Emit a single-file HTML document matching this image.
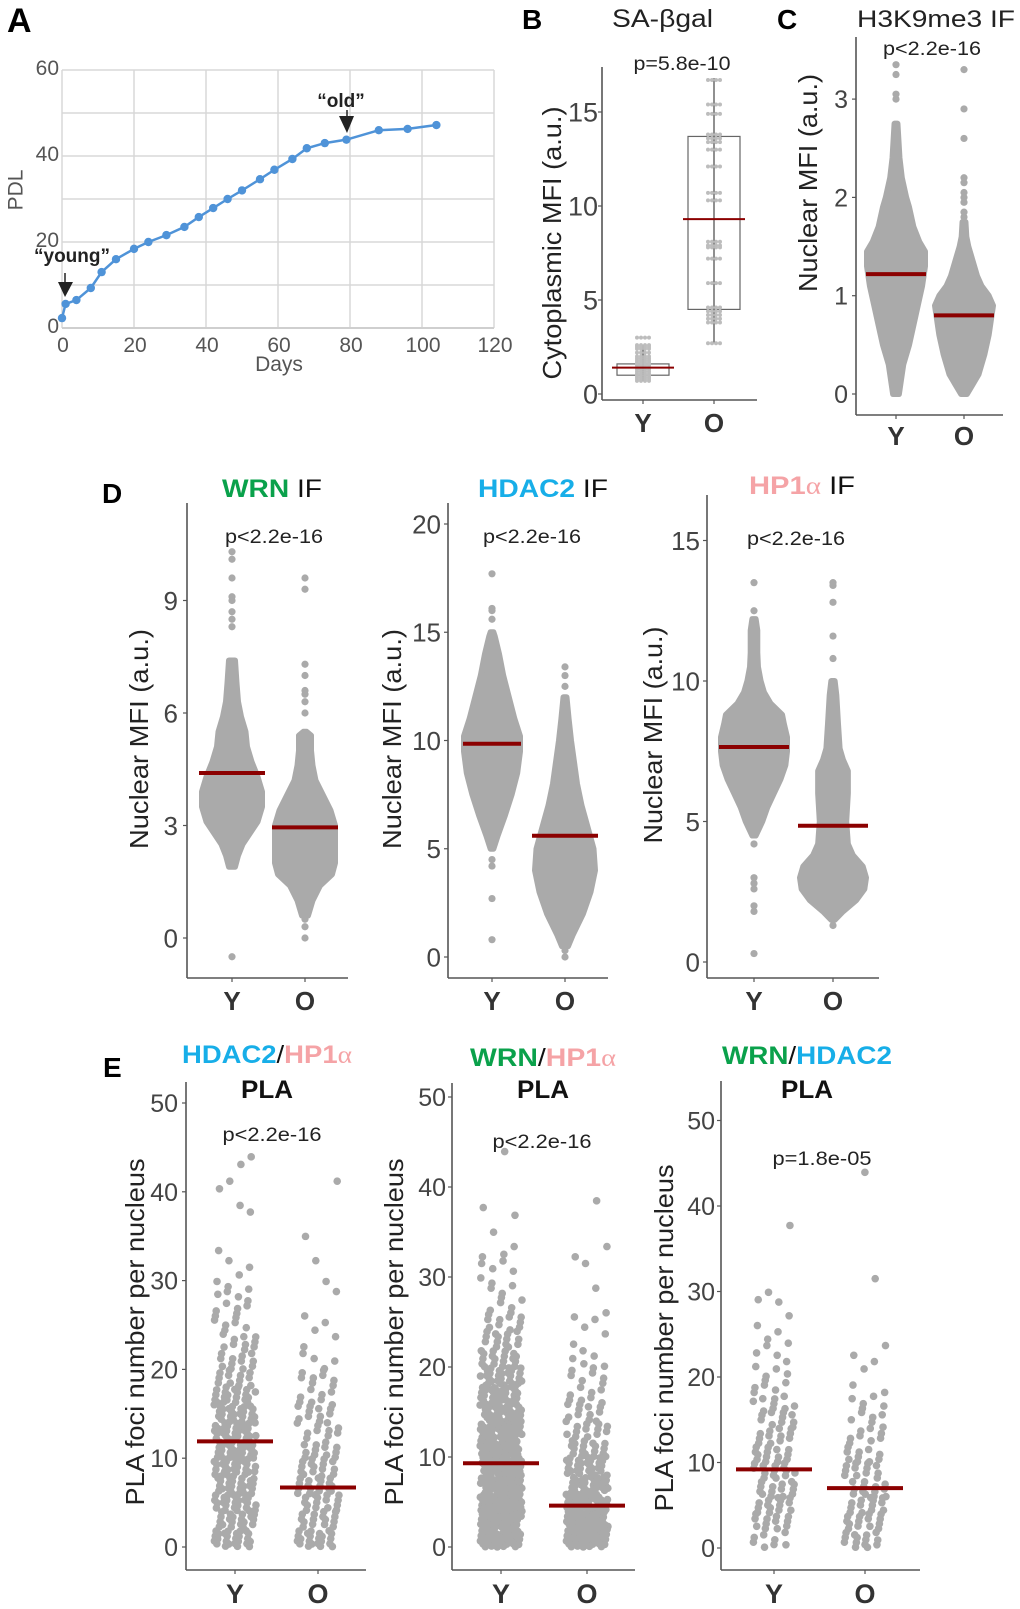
<!DOCTYPE html>
<html><head><meta charset="utf-8"><title>Figure</title>
<style>
html,body{margin:0;padding:0;background:#fff;}
svg{display:block;font-family:"Liberation Sans",Arial,sans-serif;}
</style></head>
<body>
<svg id="fig" width="1020" height="1609" viewBox="0 0 1020 1609" xmlns="http://www.w3.org/2000/svg"></svg>
<script>
// ---------- Panel A data ----------
const aDays = [0,1,4,8,11,15,20,24,29,34,38,42,46,50,55,59,64,68,73,79,88,96,104];
const aPDL  = [2.3,5.6,6.5,9.3,13,16,18.4,20,21.6,23.5,25.8,27.9,30,32,34.6,36.8,39.3,41.8,43,43.8,46,46.3,47.2];
const aXTicks = [0,20,40,60,80,100,120];
const aYTicks = [0,20,40,60];
// ---------- Panel B data ----------
const bGroups = ["Y","O"];
const bQ1 = [1.0,4.5];
const bQ3 = [1.6,13.7];
const bMed = [1.4,9.3];
const bLo = [0.7,2.7];
const bHi = [2.6,16.8];
const bYvals = [0.7,0.8,0.9,1.0,1.1,1.2,1.3,1.4,1.5,1.6,1.7,1.8,1.9,2.0,2.2,2.4,2.5,2.6,3.0];
const bOvals = [2.7,3.8,4.0,4.2,4.4,4.6,5.9,7.2,7.8,7.9,8.1,10.3,10.7,12.1,13.0,13.4,13.6,13.8,14.9,15.4,16.7];
const bTicks = [0,5,10,15];
// ---------- Panel C data ----------
const cYLevels = [0,0.1,0.2,0.3,0.5,0.7,0.9,1.1,1.3,1.45,1.55,1.7,1.9,2.0,2.2,2.4,2.6,2.75];
const cYDens   = [0.1,0.15,0.2,0.25,0.45,0.6,0.75,0.9,1,1,0.8,0.6,0.45,0.35,0.2,0.12,0.08,0.05];
const cYOut = [2.65,2.7,3.0,3.05,3.25,3.35];
const cOLevels = [0,0.1,0.2,0.4,0.6,0.8,0.9,1.0,1.1,1.2,1.35,1.5,1.6,1.75];
const cODens   = [0.1,0.3,0.5,0.7,0.85,0.95,1,0.85,0.6,0.45,0.3,0.15,0.08,0.05];
const cOOut = [1.8,1.85,1.95,2.0,2.05,2.15,2.2,2.6,2.9,3.3];
const cMed = [1.22,0.8];
const cTicks = [0,1,2,3];
// ---------- Panel D data ----------
const wYLevels = [1.9,2.2,2.5,2.8,3.1,3.5,3.9,4.3,4.7,5.1,5.5,5.9,6.3,6.8,7.4];
const wYDens   = [0.1,0.2,0.35,0.6,0.85,1,1,0.85,0.65,0.5,0.45,0.3,0.2,0.15,0.1];
const wYOut = [-0.5,8.3,8.5,8.7,9.0,9.1,9.6,10.1,10.3];
const wOLevels = [0.6,1.0,1.4,1.7,2.0,2.5,3.0,3.4,3.8,4.2,4.6,5.0,5.4,5.5];
const wODens   = [0.1,0.25,0.5,0.9,1,1,1,0.85,0.6,0.35,0.25,0.2,0.2,0.05];
const wOOut = [0.0,0.3,0.5,6.0,6.3,6.5,6.6,7.0,7.3,9.3,9.6];
const wMed = [4.4,2.95];
const wTicks = [0,3,6,9];
const hYLevels = [5.0,5.6,6.5,7.5,8.5,9.5,10.2,11.0,12.0,13.0,14.0,14.8,15.0];
const hYDens   = [0.05,0.2,0.45,0.7,0.9,1,1,0.8,0.6,0.4,0.25,0.1,0.05];
const hYOut = [0.8,2.7,4.2,4.5,5.2,15.6,16.0,16.1,17.7];
const hOLevels = [0.5,1.0,2.0,3.0,4.0,5.0,6.0,7.0,8.0,9.0,10.0,11.0,12.0];
const hODens   = [0.1,0.25,0.6,0.85,1,0.95,0.75,0.55,0.4,0.3,0.2,0.12,0.05];
const hOOut = [0.0,0.3,12.5,13.0,13.4];
const hMed = [9.85,5.6];
const hTicks = [0,5,10,15,20];
const pYLevels = [4.5,5.0,5.5,6.0,6.5,7.0,7.5,8.0,8.5,8.8,9.2,9.6,10.0,10.5,11.0,11.8,12.2];
const pYDens   = [0.05,0.25,0.4,0.6,0.8,0.95,1,1,0.9,0.85,0.5,0.3,0.2,0.12,0.1,0.1,0.05];
const pYOut = [0.3,1.8,2.0,2.6,2.8,3.0,4.2,12.5,13.5];
const pOLevels = [1.5,1.8,2.2,2.6,3.0,3.4,3.8,4.2,5.0,6.0,6.8,7.2,7.6,8.5,9.5,10.0];
const pODens   = [0.05,0.3,0.7,0.95,1,0.9,0.6,0.45,0.4,0.45,0.45,0.3,0.2,0.15,0.1,0.05];
const pOOut = [1.3,10.8,11.6,12.8,13.4,13.5];
const pMed = [7.65,4.85];
const pTicks = [0,5,10,15];
// ---------- Panel E data (counts per 2-unit bin, starting at 0) ----------
const eBinWidth = 2;
const e1Y = [25,20,25,25,25,28,28,25,22,12,12,10,6,7,6,2,2,0,1,1,2,2];
const e1O = [22,15,15,18,14,12,10,10,8,8,4,2,2,1,2,0,1,1,0,0,1];
const e1Med = [11.9,6.7];
const e2Y = [45,40,40,40,40,38,35,32,30,25,18,14,10,6,5,4,3,1,2,0,0,1];
const e2O = [50,40,35,30,25,18,14,10,8,7,5,2,3,1,1,1,2,0,0,1];
const e2Med = [9.3,4.6];
const e3Y = [8,12,14,14,14,14,12,10,9,6,5,4,2,2,3,0,0,0,1];
const e3O = [14,14,13,13,12,10,8,6,5,2,2,2,0,0,0,1,0,0,0,0,0,1];
const e3Med = [9.2,7.0];
const eTicks = [0,10,20,30,40,50];

const NS = "http://www.w3.org/2000/svg";
const svg = document.getElementById("fig");
function mk(tag, attrs, name, parent){
  const el = document.createElementNS(NS, tag);
  for (const k in attrs) el.setAttribute(k, attrs[k]);
  
  
  (parent || svg).appendChild(el);
  return el;
}
function txt(x, y, s, attrs, name, parent){
  const a = Object.assign({x:x, y:y}, attrs);
  const t = mk('text', a, name, parent);
  t.textContent = s;
  return t;
}
function rtxt(x, cy, s, size, len, name){
  const t = mk('text', {x:0, y:0, transform:`translate(${x},${cy}) rotate(-90)`, 'text-anchor':'middle', 'dominant-baseline':'central', 'font-size':size, fill:'#222', textLength:len, lengthAdjust:'spacingAndGlyphs'}, name);
  t.textContent = s;
  return t;
}
const AX = '#555', DOT = '#aaaaaa', RED = '#8b0000';

// ================= Panel A =================
(function(){
  const g = mk('g', {}, 'panel-a');
  const ax = d => 62 + d*3.6, ay = v => 328 - v*4.3;
  txt(7, 32, 'A', {'font-size':34, 'font-weight':'bold', fill:'#000'}, 'panel-label-a', g);
  for (let v = 0; v <= 60; v += 10) mk('line', {x1:ax(0), x2:ax(120), y1:ay(v), y2:ay(v), stroke:'#d8d8d8', 'stroke-width':1.5}, 'grid-h', g);
  aXTicks.forEach(d => mk('line', {x1:ax(d), x2:ax(d), y1:ay(0), y2:ay(60), stroke:'#d8d8d8', 'stroke-width':1.5}, 'grid-v', g));
  mk('line', {x1:ax(0), x2:ax(120), y1:ay(0), y2:ay(0), stroke:'#cfcfcf', 'stroke-width':2}, 'x-axis', g);
  aYTicks.forEach(v => txt(59, ay(v)+5, String(v), {'font-size':21, fill:'#555', 'text-anchor':'end'}, 'y-tick-label', g));
  aXTicks.forEach(d => txt(ax(d)+1, 352, String(d), {'font-size':21, fill:'#555', 'text-anchor':'middle'}, 'x-tick-label', g));
  txt(279, 371, 'Days', {'font-size':21, fill:'#555', 'text-anchor':'middle'}, 'x-axis-title', g);
  const t = mk('text', {x:0, y:0, transform:'translate(16,190) rotate(-90)', 'text-anchor':'middle', 'dominant-baseline':'central', 'font-size':21, fill:'#555'}, 'y-axis-title', g);
  t.textContent = 'PDL';
  const pts = aDays.map((d,i) => ax(d)+','+ay(aPDL[i])).join(' ');
  mk('polyline', {points:pts, fill:'none', stroke:'#4f93d8', 'stroke-width':2.5}, 'pdl-line', g);
  aDays.forEach((d,i) => mk('circle', {cx:ax(d), cy:ay(aPDL[i]), r:4.2, fill:'#4f93d8'}, 'pdl-point', g));
  txt(72, 262, '\u201Cyoung\u201D', {'font-size':19, 'font-weight':'bold', fill:'#222', 'text-anchor':'middle'}, 'young-annotation', g);
  mk('line', {x1:65, x2:65, y1:273, y2:284, stroke:'#222', 'stroke-width':1.5}, 'young-arrow-shaft', g);
  mk('polygon', {points:'58,282 73,282 65,297', fill:'#222'}, 'young-arrow-head', g);
  txt(341, 107, '\u201Cold\u201D', {'font-size':19, 'font-weight':'bold', fill:'#222', 'text-anchor':'middle'}, 'old-annotation', g);
  mk('line', {x1:347, x2:347, y1:110, y2:118, stroke:'#222', 'stroke-width':1.5}, 'old-arrow-shaft', g);
  mk('polygon', {points:'339,116 354,116 347,133', fill:'#222'}, 'old-arrow-head', g);
})();

// ---------- generic helpers ----------
function axes(g, x0, yTop, yBot, xEnd, yFn, ticks, labRight, fs, groupsX, labBase, labFs){
  mk('line', {x1:x0, x2:x0, y1:yTop, y2:yBot, stroke:AX, 'stroke-width':1.6}, 'y-axis-line', g);
  mk('line', {x1:x0, x2:xEnd, y1:yBot, y2:yBot, stroke:AX, 'stroke-width':1.6}, 'x-axis-line', g);
  ticks.forEach(v => {
    mk('line', {x1:x0-4, x2:x0, y1:yFn(v), y2:yFn(v), stroke:AX, 'stroke-width':1.2}, 'y-tick', g);
    txt(labRight, yFn(v)+fs*0.36, String(v), {'font-size':fs, fill:'#444', 'text-anchor':'end'}, 'y-tick-label', g);
  });
  ['Y','O'].forEach((s,i) => {
    mk('line', {x1:groupsX[i], x2:groupsX[i], y1:yBot, y2:yBot+4, stroke:AX, 'stroke-width':1.2}, 'x-tick', g);
    txt(groupsX[i], labBase, s, {'font-size':labFs, 'font-weight':'bold', fill:'#333', 'text-anchor':'middle'}, 'x-tick-label-'+s.toLowerCase(), g);
  });
}
function swarm(g, cx, H, yFn, levels, dens, outs, name){
  const right = levels.map((v,i) => (cx + dens[i]*H)+','+yFn(v));
  const left = levels.map((v,i) => (cx - dens[i]*H)+','+yFn(v)).reverse();
  mk('polygon', {points:right.concat(left).join(' '), fill:DOT, stroke:DOT, 'stroke-width':6, 'stroke-linejoin':'round'}, name+'-swarm', g);
  outs.forEach(v => mk('circle', {cx:cx, cy:yFn(v), r:3.6, fill:DOT}, name+'-outlier', g));
}
function medLine(g, cx, half, y, w, name){
  mk('line', {x1:cx-half, x2:cx+half, y1:y, y2:y, stroke:RED, 'stroke-width':w}, name, g);
}

// ================= Panel B =================
(function(){
  const g = mk('g', {}, 'panel-b');
  const by = v => 394 - v*18.8;
  const gx = [643,714];
  txt(522, 29, 'B', {'font-size':28, 'font-weight':'bold', fill:'#000'}, 'panel-label-b', g);
  txt(612, 27, 'SA-\u03B2gal', {'font-size':25, fill:'#222', textLength:101, lengthAdjust:'spacingAndGlyphs'}, 'panel-b-title', g);
  txt(682, 70, 'p=5.8e-10', {'font-size':19, fill:'#222', 'text-anchor':'middle', textLength:97, lengthAdjust:'spacingAndGlyphs'}, 'p-value-b', g);
  axes(g, 602, 67, 400, 757, by, bTicks, 598, 27, gx, 432, 26);
  rtxt(552, 243, 'Cytoplasmic MFI (a.u.)', 26, 273, 'y-axis-title-b');
  const halfBox = [26,26];
  bGroups.forEach((s,i) => {
    mk('line', {x1:gx[i], x2:gx[i], y1:by(bLo[i]), y2:by(bHi[i]), stroke:'#555', 'stroke-width':1.3}, 'whisker-'+s, g);
    mk('rect', {x:gx[i]-halfBox[i], y:by(bQ3[i]), width:halfBox[i]*2, height:by(bQ1[i])-by(bQ3[i]), fill:'none', stroke:'#666', 'stroke-width':1.2}, 'box-'+s, g);
  });
  const rowDots = (vals, cx, name) => vals.forEach(v => {
    [-6,-2,2,6].forEach(o => mk('circle', {cx:cx+o, cy:by(v), r:2, fill:'#bdbdbd'}, name, g));
  });
  rowDots(bYvals, gx[0], 'dot-y');
  rowDots(bOvals, gx[1], 'dot-o');
  medLine(g, gx[0], 31, by(bMed[0]), 2, 'median-y');
  medLine(g, gx[1], 31, by(bMed[1]), 2, 'median-o');
})();

// ================= Panel C =================
(function(){
  const g = mk('g', {}, 'panel-c');
  const cy = v => 394 - v*98.3;
  const gx = [896,964];
  txt(777, 29, 'C', {'font-size':28, 'font-weight':'bold', fill:'#000'}, 'panel-label-c', g);
  txt(857, 27, 'H3K9me3 IF', {'font-size':24, fill:'#222', textLength:158, lengthAdjust:'spacingAndGlyphs'}, 'panel-c-title', g);
  txt(932, 55, 'p<2.2e-16', {'font-size':19, fill:'#222', 'text-anchor':'middle', textLength:98, lengthAdjust:'spacingAndGlyphs'}, 'p-value-c', g);
  axes(g, 856, 37, 415, 1003, cy, cTicks, 848, 25, gx, 445, 26);
  rtxt(808, 183, 'Nuclear MFI (a.u.)', 26, 218, 'y-axis-title-c');
  swarm(g, gx[0], 29, cy, cYLevels, cYDens, cYOut, 'young');
  swarm(g, gx[1], 29, cy, cOLevels, cODens, cOOut, 'old');
  medLine(g, gx[0], 30, cy(cMed[0]), 4, 'median-y');
  medLine(g, gx[1], 30, cy(cMed[1]), 4, 'median-o');
})();

// ================= Panel D =================
function titleSpans(g, x, y, parts, len, name){
  const t = mk('text', {x:x, y:y, 'text-anchor':'middle', 'font-size':25, textLength:len, lengthAdjust:'spacingAndGlyphs'}, name, g);
  parts.forEach(p => {
    const s = document.createElementNS(NS, 'tspan');
    s.setAttribute('fill', p[1]);
    if (p[2]) s.setAttribute('font-weight', 'bold');
    if (p[3]) s.setAttribute('font-family', '"Liberation Serif", serif');
    s.textContent = p[0];
    t.appendChild(s);
  });
}
const GREEN = '#0aa14b', BLUE = '#17aee8', PINK = '#f5a3a6';
(function(){
  const g = mk('g', {}, 'panel-d');
  txt(102, 503, 'D', {'font-size':28, 'font-weight':'bold', fill:'#000'}, 'panel-label-d', g);
  // WRN
  const wy = v => 938 - v*37.5, wx = [232,305];
  titleSpans(g, 272, 497, [['WRN',GREEN,true],[' IF','#111']], 100, 'wrn-title');
  txt(274, 543, 'p<2.2e-16', {'font-size':19, fill:'#222', 'text-anchor':'middle', textLength:98, lengthAdjust:'spacingAndGlyphs'}, 'p-value-wrn', g);
  axes(g, 187, 503, 978, 348, wy, wTicks, 178, 26, wx, 1010, 26);
  rtxt(139, 739, 'Nuclear MFI (a.u.)', 26, 220, 'y-axis-title-wrn');
  swarm(g, wx[0], 30, wy, wYLevels, wYDens, wYOut, 'wrn-young');
  swarm(g, wx[1], 30, wy, wOLevels, wODens, wOOut, 'wrn-old');
  medLine(g, wx[0], 33, wy(wMed[0]), 4, 'median-y');
  medLine(g, wx[1], 33, wy(wMed[1]), 4, 'median-o');
  // HDAC2
  const hy = v => 957 - v*21.65, hx = [492,565];
  titleSpans(g, 543, 497, [['HDAC2',BLUE,true],[' IF','#111']], 130, 'hdac2-title');
  txt(532, 543, 'p<2.2e-16', {'font-size':19, fill:'#222', 'text-anchor':'middle', textLength:98, lengthAdjust:'spacingAndGlyphs'}, 'p-value-hdac2', g);
  axes(g, 448, 503, 978, 608, hy, hTicks, 441, 26, hx, 1010, 26);
  rtxt(392, 739, 'Nuclear MFI (a.u.)', 26, 220, 'y-axis-title-hdac2');
  swarm(g, hx[0], 28, hy, hYLevels, hYDens, hYOut, 'hdac2-young');
  swarm(g, hx[1], 30, hy, hOLevels, hODens, hOOut, 'hdac2-old');
  medLine(g, hx[0], 29, hy(hMed[0]), 4, 'median-y');
  medLine(g, hx[1], 33, hy(hMed[1]), 4, 'median-o');
  // HP1a
  const py = v => 962 - v*28.1, px = [754,833];
  titleSpans(g, 802, 494, [['HP1',PINK,true],['\u03B1',PINK,false,true],[' IF','#111']], 106, 'hp1a-title');
  txt(796, 545, 'p<2.2e-16', {'font-size':19, fill:'#222', 'text-anchor':'middle', textLength:98, lengthAdjust:'spacingAndGlyphs'}, 'p-value-hp1a', g);
  axes(g, 707, 495, 978, 879, py, pTicks, 700, 26, px, 1010, 26);
  rtxt(653, 735, 'Nuclear MFI (a.u.)', 26, 217, 'y-axis-title-hp1a');
  swarm(g, px[0], 33, py, pYLevels, pYDens, pYOut, 'hp1a-young');
  swarm(g, px[1], 33, py, pOLevels, pODens, pOOut, 'hp1a-old');
  medLine(g, px[0], 35, py(pMed[0]), 4, 'median-y');
  medLine(g, px[1], 35, py(pMed[1]), 4, 'median-o');
})();

// ================= Panel E =================
function jitter(g, cx, spread, yFn, counts, name){
  let k = 0;
  counts.forEach((n, b) => {
    for (let i = 0; i < n; i++, k++){
      const fx = (k*0.7548776662 + 0.5) % 1, fy = (i*0.5698402910 + b*0.37 + 0.2) % 1;
      const v = b*eBinWidth + fy*eBinWidth;
      mk('circle', {cx:cx + (fx*2-1)*spread, cy:yFn(v), r:3.8, fill:DOT}, name, g);
    }
  });
}
(function(){
  const g = mk('g', {}, 'panel-e');
  txt(103, 1077, 'E', {'font-size':28, 'font-weight':'bold', fill:'#000'}, 'panel-label-e', g);
  const panels = [
    {x0:186, top:1082, end:366, y0:1547, k:8.88, gx:[235,318], lab:178, Y:e1Y, O:e1O, med:e1Med, tx:267, tlen:170, ty:1063, pty:1141, px:272, ytx:135, ytc:1332,
      parts:[['HDAC2',BLUE,true],['/','#111'],['HP1',PINK,true],['\u03B1',PINK,false,true]], p:'p<2.2e-16', n:'hdac2-hp1a'},
    {x0:452, top:1083, end:635, y0:1547, k:9.0, gx:[501,587], lab:446, Y:e2Y, O:e2O, med:e2Med, tx:543, tlen:146, ty:1066, pty:1148, px:542, ytx:394, ytc:1332,
      parts:[['WRN',GREEN,true],['/','#111'],['HP1',PINK,true],['\u03B1',PINK,false,true]], p:'p<2.2e-16', n:'wrn-hp1a'},
    {x0:721, top:1081, end:920, y0:1548, k:8.55, gx:[774,865], lab:715, Y:e3Y, O:e3O, med:e3Med, tx:807, tlen:170, ty:1064, pty:1165, px:822, ytx:664, ytc:1338,
      parts:[['WRN',GREEN,true],['/','#111'],['HDAC2',BLUE,true]], p:'p=1.8e-05', n:'wrn-hdac2'}
  ];
  panels.forEach(P => {
    const sg = mk('g', {}, 'pla-chart-'+P.n, g);
    const yf = v => P.y0 - v*P.k;
    titleSpans(sg, P.tx, P.ty, P.parts, P.tlen, P.n+'-title');
    txt(P.tx, 1098, 'PLA', {'font-size':25, 'font-weight':'bold', fill:'#111', 'text-anchor':'middle', textLength:52, lengthAdjust:'spacingAndGlyphs'}, 'pla-subtitle', sg);
    txt(P.px, P.pty, P.p, {'font-size':19, fill:'#222', 'text-anchor':'middle', textLength:99, lengthAdjust:'spacingAndGlyphs'}, 'p-value-'+P.n, sg);
    axes(sg, P.x0, P.top, 1570, P.end, yf, eTicks, P.lab, 25, P.gx, 1603, 27);
    rtxt(P.ytx, P.ytc, 'PLA foci number per nucleus', 26, 347, 'y-axis-title-'+P.n);
    jitter(sg, P.gx[0], 21, yf, P.Y, 'dot-young');
    jitter(sg, P.gx[1], 21, yf, P.O, 'dot-old');
    medLine(sg, P.gx[0], 38, yf(P.med[0]), 4, 'median-y');
    medLine(sg, P.gx[1], 38, yf(P.med[1]), 4, 'median-o');
  });
})();
</script>
</body></html>
